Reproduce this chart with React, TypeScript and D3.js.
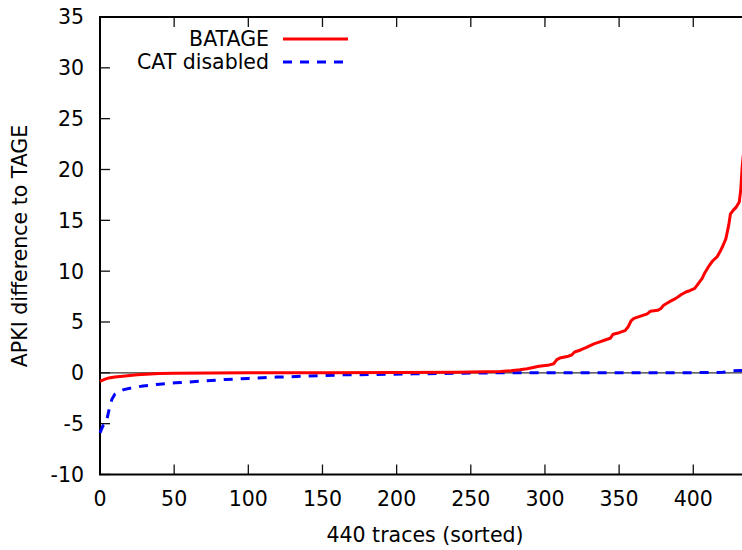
import React, { Component } from "react";
import * as d3 from "d3";

// BATAGE: trace index (sorted) and APKI difference
const batageIdx = [0, 3, 6, 10, 17, 25, 31, 40, 50, 75, 100, 150, 200, 240, 260, 270, 277, 283, 288, 292, 296, 303, 306, 308, 310, 315, 318, 320, 324, 328, 333, 337, 341, 344, 346, 350, 354, 356, 358, 360, 365, 369, 371, 376, 378, 380, 384, 388, 392, 395, 398, 401, 403, 406, 408, 411, 413, 416, 418, 420, 422, 424, 425, 427, 429, 431, 432, 433, 434, 436, 439];
const batageVal = [-0.85, -0.65, -0.5, -0.4, -0.3, -0.2, -0.13, -0.07, -0.04, -0.01, 0.0, 0.02, 0.04, 0.06, 0.1, 0.14, 0.2, 0.3, 0.4, 0.52, 0.65, 0.78, 0.9, 1.3, 1.45, 1.6, 1.75, 2.05, 2.25, 2.5, 2.85, 3.05, 3.25, 3.4, 3.8, 3.95, 4.15, 4.5, 5.1, 5.35, 5.6, 5.8, 6.05, 6.15, 6.3, 6.65, 7.0, 7.3, 7.7, 7.95, 8.1, 8.3, 8.7, 9.3, 9.9, 10.6, 11.0, 11.4, 11.9, 12.5, 13.2, 14.6, 15.6, 16.0, 16.3, 16.8, 18.0, 20.3, 21.8, 24, 29];

// CAT disabled
const catIdx = [0, 2, 4, 6, 8, 10, 13, 16, 22, 29, 40, 51, 70, 85, 100, 119, 141, 164, 175, 211, 245, 270, 300, 350, 400, 420, 427, 433, 439];
const catVal = [-5.9, -5.2, -5.0, -3.7, -2.6, -2.1, -1.8, -1.65, -1.45, -1.3, -1.12, -0.98, -0.8, -0.65, -0.55, -0.42, -0.32, -0.2, -0.18, -0.1, -0.03, 0.0, 0.0, 0.0, 0.02, 0.05, 0.2, 0.22, 0.3];

const xTicks = [0, 50, 100, 150, 200, 250, 300, 350, 400];
const yTicks = [-10, -5, 0, 5, 10, 15, 20, 25, 30, 35];
const seriesNames = ["BATAGE", "CAT disabled"];

class App extends Component {
  svgRef = React.createRef<SVGSVGElement>();

  componentDidMount() {
    this.drawChart();
  }

  drawChart() {
    const width = 742,
      height = 550,
      left = 100,
      top = 17,
      bottom = 474.5,
      font = "DejaVu Sans",
      fontSize = 20.5,
      tickLen = 10;

    const svg = d3.select(this.svgRef.current);
    svg.selectAll("*").remove();

    const x = d3.scaleLinear().domain([0, 440]).range([left, 752.6]);
    const y = d3.scaleLinear().domain([-10, 35]).range([bottom, top]);

    // zero axis
    svg
      .append("line")
      .attr("x1", left)
      .attr("x2", x(440))
      .attr("y1", y(0))
      .attr("y2", y(0))
      .attr("stroke", "#333")
      .attr("stroke-width", 1.4);

    // ticks
    const tickColor = "#111";
    xTicks.forEach((t) => {
      svg.append("line").attr("x1", x(t)).attr("x2", x(t))
        .attr("y1", bottom).attr("y2", bottom - tickLen)
        .attr("stroke", tickColor).attr("stroke-width", 1.3);
      svg.append("line").attr("x1", x(t)).attr("x2", x(t))
        .attr("y1", top).attr("y2", top + tickLen)
        .attr("stroke", tickColor).attr("stroke-width", 1.3);
      svg.append("text")
        .attr("x", x(t))
        .attr("y", 506)
        .attr("text-anchor", "middle")
        .attr("font-family", font)
        .attr("font-size", fontSize)
        .text(t);
    });
    yTicks.forEach((t) => {
      svg.append("line").attr("x1", left).attr("x2", left + tickLen)
        .attr("y1", y(t)).attr("y2", y(t))
        .attr("stroke", tickColor).attr("stroke-width", 1.3);
      svg.append("text")
        .attr("x", 84)
        .attr("y", y(t))
        .attr("dy", "0.36em")
        .attr("text-anchor", "end")
        .attr("font-family", font)
        .attr("font-size", fontSize)
        .text(t);
    });

    // frame (right side is outside the picture)
    svg
      .append("path")
      .attr("d", `M${x(440)},${top}H${left}V${bottom}H${x(440)}`)
      .attr("fill", "none")
      .attr("stroke", "#000")
      .attr("stroke-width", 2);

    const line = d3
      .line<[number, number]>()
      .x((d) => x(d[0]))
      .y((d) => y(d[1]));

    const batage = batageIdx.map((d, i) => [d, batageVal[i]] as [number, number]);
    const cat = catIdx.map((d, i) => [d, catVal[i]] as [number, number]);

    svg.append("path")
      .attr("d", line(cat))
      .attr("fill", "none")
      .attr("stroke", "#0000ff")
      .attr("stroke-width", 3)
      .attr("stroke-dasharray", "9,8");

    svg.append("path")
      .attr("d", line(batage))
      .attr("fill", "none")
      .attr("stroke", "#ff0000")
      .attr("stroke-width", 3)
      .attr("stroke-linejoin", "round");

    // legend
    const legend = svg
      .selectAll(".legend")
      .data(seriesNames)
      .enter()
      .append("g")
      .attr("transform", (d, i) => "translate(0," + (39 + i * 23) + ")");

    legend.append("text")
      .attr("x", 269)
      .attr("y", 0)
      .attr("dy", "0.36em")
      .attr("text-anchor", "end")
      .attr("font-family", font)
      .attr("font-size", fontSize)
      .text((d) => d);

    legend.append("line")
      .attr("x1", 283)
      .attr("x2", 348)
      .attr("y1", 0)
      .attr("y2", 0)
      .attr("stroke", (d, i) => (i === 0 ? "#ff0000" : "#0000ff"))
      .attr("stroke-width", 3)
      .attr("stroke-dasharray", (d, i) => (i === 0 ? null : "9,8"));

    // axis labels
    svg.append("text")
      .attr("x", 425)
      .attr("y", 542)
      .attr("text-anchor", "middle")
      .attr("font-family", font)
      .attr("font-size", fontSize)
      .text("440 traces (sorted)");

    svg.append("text")
      .attr("transform", "translate(27,246) rotate(-90)")
      .attr("text-anchor", "middle")
      .attr("font-family", font)
      .attr("font-size", fontSize)
      .text("APKI difference to TAGE");

    svg.attr("width", width).attr("height", height);
  }

  render() {
    return (
      <svg
        ref={this.svgRef}
        width={742}
        height={550}
        style={{ position: "absolute", left: 0, top: 0, background: "#fff" }}
      ></svg>
    );
  }
}

export default App;
